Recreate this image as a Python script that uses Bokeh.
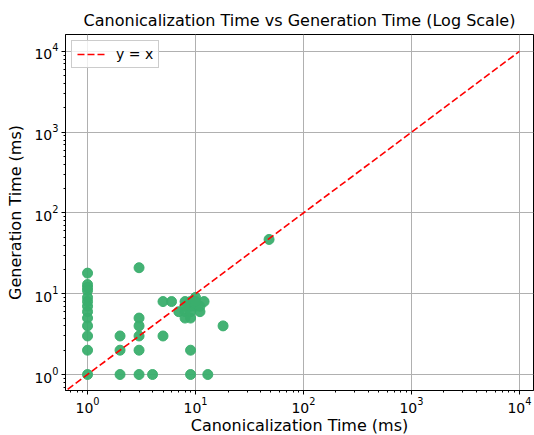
from bokeh.plotting import figure
from bokeh.models import ColumnDataSource, Legend, LegendItem, Range1d
from bokeh.embed import file_html
from bokeh.resources import INLINE

# Canonicalization time (ms) and generation time (ms)
canon_ms = [1, 1, 1, 1, 1, 1, 1, 1, 1, 1, 1, 1, 1,
            2, 2, 2, 3, 3, 3, 3, 3, 3, 4, 5, 5, 6,
            7, 8, 8, 9, 9, 10, 10, 11, 11, 12, 8, 9, 9, 10, 8,
            9, 9, 13, 18, 48]
gen_ms = [18, 13, 12, 11, 9, 8, 7, 6, 5, 4, 3, 2, 1,
          3, 2, 1, 21, 5, 4, 3, 2, 1, 1, 8, 3, 8,
          6, 8, 6, 8, 7, 9, 7, 6, 7, 8, 5, 5, 6, 8, 7,
          2, 1, 1, 4, 47]
line_ends = [0.1, 10000]

x_range = Range1d(0.625, 13500)
y_range = Range1d(0.634, 16200)

p = figure(frame_width=468, frame_height=356, x_axis_type="log", y_axis_type="log",
           x_range=x_range, y_range=y_range,
           output_backend="svg", toolbar_location=None,
           title="Canonicalization Time vs Generation Time (Log Scale)",
           min_border_left=65, min_border_right=1, min_border_top=34,
           min_border_bottom=10)

FONT = "DejaVu Sans"
p.title.text_font = FONT
p.title.text_font_size = "16px"
p.title.text_font_style = "normal"
p.title.align = "center"
p.title.text_color = "black"

src = ColumnDataSource(dict(x=canon_ms, y=gen_ms))
p.scatter("x", "y", source=src, size=10, fill_color="#3aae6d",
          line_color="#3aae6d", fill_alpha=0.95, line_alpha=0.95)

ln = p.line(line_ends, line_ends, line_color="red", line_dash="7 3", line_width=1.6)

legend = Legend(items=[LegendItem(label="y = x", renderers=[ln])],
                location="top_left", label_text_font=FONT,
                label_text_font_size="14px", label_text_color="black",
                border_line_color="#cccccc",
                border_line_alpha=1, background_fill_alpha=0.8,
                glyph_width=30, glyph_height=14, margin=6, padding=5,
                label_standoff=9)
p.add_layout(legend)

for ax in (p.xaxis, p.yaxis):
    ax.major_label_text_font = FONT
    ax.major_label_text_font_size = "14px"
    ax.axis_label_text_font = FONT
    ax.axis_label_text_font_size = "16px"
    ax.axis_label_text_font_style = "normal"
    ax.axis_label_text_color = "black"
    ax.axis_line_color = "black"
    ax.major_tick_line_color = "black"
    ax.minor_tick_line_color = "black"
    ax.major_tick_in = 0
    ax.major_tick_out = 4
    ax.minor_tick_in = 0
    ax.minor_tick_out = 2
    ax.major_label_text_color = "black"
    ax.major_label_standoff = 3

p.xaxis.major_label_standoff = 2
p.xaxis.axis_label = "Canonicalization Time (ms)"
p.yaxis.axis_label = "Generation Time (ms)"
p.xaxis.axis_label_standoff = 0
p.yaxis.axis_label_standoff = 6

p.grid.grid_line_color = "#b0b0b0"
p.grid.grid_line_width = 1
p.outline_line_color = "black"
p.outline_line_alpha = 1

open("out.html", "w").write(file_html(p, INLINE))
